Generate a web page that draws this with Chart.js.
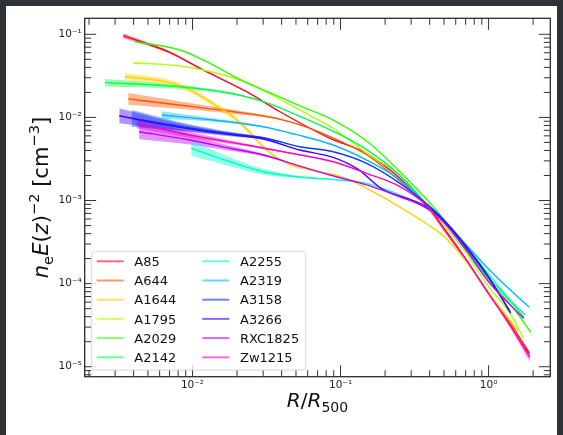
<!DOCTYPE html>
<html><head><meta charset="utf-8">
<script src="https://cdn.jsdelivr.net/npm/chart.js@4.4.0/dist/chart.umd.min.js"></script>
<style>
html,body{margin:0;padding:0;background:#2f3237;overflow:hidden;}
canvas{display:block;}
</style></head><body>
<canvas id="c" width="563" height="435"></canvas>
<script>
// ---------- data ----------
const names  = ['A85','A644','A1644','A1795','A2029','A2142','A2255','A2319','A3158','A3266','RXC1825','Zw1215'];
const colors = ['#ff0029','#ff5400','#ffd100','#afff00','#32ff00','#00ff4b','#00ffc7','#00b9ff','#003bff','#4300ff','#c100ff','#ff00bf'];
const xTicks = [0.01, 0.1, 1];
const yTicks = [1e-5, 1e-4, 1e-3, 1e-2, 1e-1];

const x_A85 = [0.0034, 0.00685, 0.0118, 0.0232, 0.039, 0.0848, 0.15, 0.252, 0.381, 0.501, 0.698, 1.0, 1.42, 1.88];
const y_A85 = [0.0962, 0.0618, 0.0372, 0.0204, 0.0117, 0.0056, 0.0037, 0.00185, 8.6e-4, 4.6e-4, 2.0e-4, 7.6e-5, 3.2e-5, 1.45e-5];
const e_A85 = [0.03, 0.015, 0.008, 0, 0, 0, 0, 0, 0, 0, 0, 0.005, 0.015, 0.03];

const x_A644 = [0.00368, 0.00808, 0.0188, 0.0368, 0.0577, 0.101, 0.151, 0.254, 0.39, 0.501, 0.698, 1.0, 1.42, 1.77];
const y_A644 = [0.0167, 0.0141, 0.0117, 0.00975, 0.00774, 0.0051, 0.00353, 0.00169, 8.2e-4, 4.4e-4, 1.95e-4, 7.6e-5, 3.2e-5, 1.66e-5];
const e_A644 = [0.07, 0.045, 0.025, 0.012, 0.005, 0, 0, 0, 0, 0, 0, 0, 0, 0];

const x_A1644 = [0.00349, 0.00705, 0.0101, 0.0142, 0.0188, 0.0248, 0.031, 0.0435, 0.065, 0.101, 0.15, 0.21, 0.392, 0.501, 0.698, 1.0, 1.585];
const y_A1644 = [0.0309, 0.0262, 0.0204, 0.0141, 0.0102, 0.0064, 0.0042, 0.0028, 0.0023, 0.00194, 0.0014, 0.00101, 5.07e-4, 3.7e-4, 1.9e-4, 7.8e-5, 2.7e-5];
const e_A1644 = [0.045, 0.035, 0.03, 0.03, 0.03, 0.025, 0.02, 0.012, 0.006, 0, 0, 0, 0, 0, 0, 0, 0];

const x_A1795 = [0.00397, 0.00822, 0.0118, 0.0199, 0.0294, 0.0532, 0.0892, 0.15, 0.252, 0.389, 0.501, 0.698, 1.0, 1.42, 1.72];
const y_A1795 = [0.0455, 0.0416, 0.0372, 0.029, 0.0215, 0.0122, 0.0074, 0.0037, 0.0020, 8.6e-4, 5.0e-4, 2.4e-4, 9.2e-5, 4.2e-5, 2.2e-5];
const e_A1795 = [0.012, 0.006, 0, 0, 0, 0, 0, 0, 0, 0, 0, 0, 0, 0, 0];

const x_A2029 = [0.00408, 0.00822, 0.01245, 0.0199, 0.039, 0.0532, 0.0892, 0.15, 0.252, 0.423, 0.501, 0.698, 1.0, 1.42, 1.93];
const y_A2029 = [0.0815, 0.0647, 0.0468, 0.030, 0.0175, 0.0138, 0.0093, 0.0052, 0.00222, 8.4e-4, 5.8e-4, 2.7e-4, 1.1e-4, 5.5e-5, 2.6e-5];
const e_A2029 = [0.008, 0.004, 0, 0, 0, 0, 0, 0, 0, 0, 0, 0, 0, 0, 0];

const x_A2142 = [0.00256, 0.00822, 0.0179, 0.0301, 0.0532, 0.0892, 0.15, 0.252, 0.4, 0.501, 0.698, 1.0, 1.42, 1.74];
const y_A2142 = [0.0262, 0.0234, 0.0195, 0.01546, 0.0103, 0.0068, 0.0041, 0.0020, 8.2e-4, 5.5e-4, 2.6e-4, 1.18e-4, 6.0e-5, 3.9e-5];
const e_A2142 = [0.045, 0.025, 0.012, 0.005, 0, 0, 0, 0, 0, 0, 0, 0, 0, 0];

const x_A2255 = [0.0098, 0.0179, 0.0301, 0.0505, 0.0848, 0.15, 0.252, 0.39, 0.501, 0.698, 1.0, 1.42, 1.77];
const y_A2255 = [0.00425, 0.00293, 0.00222, 0.00193, 0.0018, 0.00161, 0.00116, 7.8e-4, 5.5e-4, 2.85e-4, 1.3e-4, 6.2e-5, 4.2e-5];
const e_A2255 = [0.09, 0.055, 0.035, 0.015, 0.006, 0, 0, 0, 0, 0, 0, 0, 0];

const x_A2319 = [0.00618, 0.0138, 0.0301, 0.0505, 0.0892, 0.15, 0.252, 0.39, 0.501, 0.698, 1.0, 1.42, 1.88];
const y_A2319 = [0.0107, 0.0093, 0.00773, 0.0062, 0.00466, 0.00307, 0.00177, 8.8e-4, 5.8e-4, 3.0e-4, 1.5e-4, 8.2e-5, 5.2e-5];
const e_A2319 = [0.045, 0.02, 0.008, 0, 0, 0, 0, 0, 0, 0, 0, 0, 0];

const x_A3158 = [0.00388, 0.00822, 0.0179, 0.0301, 0.0532, 0.0892, 0.15, 0.252, 0.39, 0.501, 0.698, 1.0, 1.41];
const y_A3158 = [0.00975, 0.0078, 0.0064, 0.0057, 0.00444, 0.00386, 0.0028, 0.00161, 8.8e-4, 5.8e-4, 2.9e-4, 1.21e-4, 4.4e-5];
const e_A3158 = [0.1, 0.05, 0.02, 0.008, 0, 0, 0, 0, 0, 0, 0, 0, 0];

const x_A3266 = [0.0032, 0.00822, 0.0179, 0.0301, 0.0532, 0.0892, 0.13, 0.194, 0.3, 0.39, 0.501, 0.698, 1.0, 1.40];
const y_A3266 = [0.01047, 0.0076, 0.0062, 0.0055, 0.00405, 0.0033, 0.0024, 0.00135, 0.00102, 8.2e-4, 5.6e-4, 2.8e-4, 1.18e-4, 4.6e-5];
const e_A3266 = [0.09, 0.045, 0.02, 0.008, 0, 0, 0, 0, 0, 0, 0, 0, 0, 0];

const x_RXC1825 = [0.00436, 0.0096, 0.0179, 0.0301, 0.0505, 0.0848, 0.15, 0.252, 0.39, 0.501, 0.698, 1.0, 1.42, 1.73];
const y_RXC1825 = [0.00673, 0.00535, 0.00425, 0.00353, 0.00267, 0.00203, 0.00154, 0.00111, 7.9e-4, 5.4e-4, 2.6e-4, 1.05e-4, 5.4e-5, 3.8e-5];
const e_RXC1825 = [0.09, 0.055, 0.03, 0.015, 0.005, 0, 0, 0, 0, 0, 0, 0, 0, 0];

const x_Zw1215 = [0.00419, 0.0096, 0.0232, 0.0505, 0.0892, 0.15, 0.252, 0.39, 0.501, 0.698, 1.0, 1.42, 1.90];
const y_Zw1215 = [0.0085, 0.00614, 0.00466, 0.0036, 0.00293, 0.00212, 0.00147, 8.4e-4, 4.6e-4, 2.0e-4, 7.6e-5, 3.0e-5, 1.3e-5];
const e_Zw1215 = [0.06, 0.035, 0.015, 0.005, 0, 0, 0, 0, 0, 0, 0.01, 0.03, 0.06];

const seriesX = [x_A85, x_A644, x_A1644, x_A1795, x_A2029, x_A2142, x_A2255, x_A2319, x_A3158, x_A3266, x_RXC1825, x_Zw1215];
const seriesY = [y_A85, y_A644, y_A1644, y_A1795, y_A2029, y_A2142, y_A2255, y_A2319, y_A3158, y_A3266, y_RXC1825, y_Zw1215];
const seriesE = [e_A85, e_A644, e_A1644, e_A1795, e_A2029, e_A2142, e_A2255, e_A2319, e_A3158, e_A3266, e_RXC1825, e_Zw1215];

// ---------- helpers ----------
function rgba(hex, a){
  const n = parseInt(hex.slice(1),16);
  return `rgba(${(n>>16)&255},${(n>>8)&255},${n&255},${a})`;
}
const SUP = {'-':'\u207B','0':'\u2070','1':'\u00B9','2':'\u00B2','3':'\u00B3','4':'\u2074','5':'\u2075','6':'\u2076','7':'\u2077','8':'\u2078','9':'\u2079'};
function decadeLabel(v){
  const e = Math.round(Math.log10(v));
  return '10' + String(e).split('').map(c=>SUP[c]).join('');
}

// ---------- datasets ----------
const datasets = [];
names.forEach((nm,i)=>{
  const xs = seriesX[i], ys = seriesY[i], es = seriesE[i];
  const keep = xs.map((_,j)=> es[j]>0 || (j>0 && es[j-1]>0) || (j<xs.length-1 && es[j+1]>0));
  let seg = [];
  const flush = ()=>{
    if (seg.length>1){
      datasets.push({label:nm+'_lo', data: seg.map(j=>({x:xs[j], y:ys[j]/Math.pow(10,es[j])})),
        borderWidth:0, borderColor:'rgba(0,0,0,0)', pointRadius:0, fill:false, order:100+i});
      datasets.push({label:nm+'_hi', data: seg.map(j=>({x:xs[j], y:ys[j]*Math.pow(10,es[j])})),
        borderWidth:0, borderColor:'rgba(0,0,0,0)', pointRadius:0, fill:'-1',
        backgroundColor: rgba(colors[i],0.42), order:100+i});
    }
    seg = [];
  };
  xs.forEach((_,j)=>{ if (keep[j]) seg.push(j); else flush(); });
  flush();
});
names.forEach((nm,i)=>{
  datasets.push({label:nm, data: seriesX[i].map((x,j)=>({x, y:seriesY[i][j]})),
    borderColor: colors[i], borderWidth:1.4, pointRadius:0, fill:false, order: 11-i});
});

// ---------- plugins ----------
const bgPlugin = {
  id:'bg',
  beforeDraw(chart){
    const c = chart.ctx;
    c.save();
    c.fillStyle = '#2f3237'; c.fillRect(0,0,chart.width,chart.height);
    c.fillStyle = '#ffffff'; c.fillRect(6,6,551,429);
    c.restore();
  }
};

const framePlugin = {
  id:'frame',
  afterDatasetsDraw(chart){
    const c = chart.ctx, a = chart.chartArea, sx = chart.scales.x, sy = chart.scales.y;
    c.save();
    c.strokeStyle = '#333333'; c.lineWidth = 1;
    c.beginPath();
    for (let e=-4;e<=1;e++) for (let m=1;m<=9;m++){
      const v = m*Math.pow(10,e);
      if (v>=sx.min && v<=sx.max){
        const p = sx.getPixelForValue(v), L = m===1?11.5:6.5;
        c.moveTo(p,a.bottom); c.lineTo(p,a.bottom-L);
        c.moveTo(p,a.top); c.lineTo(p,a.top+L);
      }
    }
    for (let e=-6;e<=0;e++) for (let m=1;m<=9;m++){
      const v = m*Math.pow(10,e);
      if (v>=sy.min && v<=sy.max){
        const p = sy.getPixelForValue(v), L = m===1?11.5:6.5;
        c.moveTo(a.left,p); c.lineTo(a.left+L,p);
        c.moveTo(a.right,p); c.lineTo(a.right-L,p);
      }
    }
    c.stroke();
    c.lineWidth = 1.3; c.strokeStyle = '#2a2a2a';
    c.strokeRect(a.left, a.top, a.right-a.left, a.bottom-a.top);
    c.restore();
  }
};

const legendPlugin = {
  id:'legendBox',
  afterDraw(chart){
    const c = chart.ctx;
    c.save();
    const bx=91.7, by=251.3, bw=214, bh=118.7, r=3;
    c.beginPath();
    c.moveTo(bx+r,by); c.lineTo(bx+bw-r,by); c.quadraticCurveTo(bx+bw,by,bx+bw,by+r);
    c.lineTo(bx+bw,by+bh-r); c.quadraticCurveTo(bx+bw,by+bh,bx+bw-r,by+bh);
    c.lineTo(bx+r,by+bh); c.quadraticCurveTo(bx,by+bh,bx,by+bh-r);
    c.lineTo(bx,by+r); c.quadraticCurveTo(bx,by,bx+r,by);
    c.closePath();
    c.fillStyle = 'rgba(255,255,255,0.8)'; c.fill();
    c.strokeStyle = 'rgba(204,204,204,0.8)'; c.lineWidth = 1; c.stroke();
    c.font = '13px "DejaVu Sans"'; c.textBaseline = 'alphabetic';
    names.forEach((nm,i)=>{
      const col = Math.floor(i/6), row = i%6;
      const yy = 261.3 + row*19.2;
      const x0 = col ? 202.3 : 96.7;
      c.strokeStyle = rgba(colors[i],0.6); c.lineWidth = 2;
      c.beginPath(); c.moveTo(x0,yy); c.lineTo(x0+27,yy); c.stroke();
      c.fillStyle = '#111111';
      c.fillText(nm, col ? 240 : 134.3, yy+4.7);
    });
    c.restore();
  }
};

function drawRuns(c, runs, size){
  const fontOf = r => `${r.it?'italic ':''}${(r.s? size*0.7 : size).toFixed(2)}px "DejaVu Sans"`;
  let w = 0;
  runs.forEach(r=>{ c.font = fontOf(r); r.w = c.measureText(r.t).width; w += r.w; });
  let x = -w/2;
  runs.forEach(r=>{
    c.font = fontOf(r);
    const dy = r.s===1 ? size*0.22 : (r.s===-1 ? -size*0.42 : 0);
    c.fillText(r.t, x, dy);
    x += r.w;
  });
}

const titlePlugin = {
  id:'titles',
  afterDraw(chart){
    const c = chart.ctx, a = chart.chartArea;
    c.save();
    c.fillStyle = '#111111'; c.textBaseline = 'alphabetic'; c.textAlign = 'left';
    c.save();
    c.translate((a.left+a.right)/2, 407.3);
    drawRuns(c, [{t:'R',it:1},{t:'/'},{t:'R',it:1},{t:'500',s:1}], 20);
    c.restore();
    c.save();
    c.translate(48, (a.top+a.bottom)/2);
    c.rotate(-Math.PI/2);
    drawRuns(c, [{t:'n',it:1},{t:'e',s:1},{t:'E',it:1},{t:'('},{t:'z',it:1},{t:')'},{t:'\u22122',s:-1},
                 {t:' [cm'},{t:'\u22123',s:-1},{t:']'}], 21);
    c.restore();
    c.restore();
  }
};

// ---------- chart ----------
new Chart(document.getElementById('c').getContext('2d'), {
  type:'line',
  data:{datasets},
  options:{
    responsive:false, animation:false, devicePixelRatio:1,
    layout:{padding:{left:0, top:18.3, right:12.7, bottom:0}},
    plugins:{legend:{display:false}, tooltip:{enabled:false}},
    elements:{point:{radius:0}, line:{cubicInterpolationMode:'monotone'}},
    scales:{
      x:{type:'logarithmic', min:0.00187, max:2.612,
        afterBuildTicks: s => { s.ticks = xTicks.map(v=>({value:v})); },
        afterFit: s => { s.height = 58.3; },
        grid:{display:false, drawTicks:false}, border:{display:false},
        ticks:{callback: v => decadeLabel(v), font:{family:'DejaVu Sans', size:10.5}, color:'#222222',
               padding:2, maxRotation:0, autoSkip:false}},
      y:{type:'logarithmic', min:7.59e-6, max:0.1558,
        afterBuildTicks: s => { s.ticks = yTicks.map(v=>({value:v})); },
        afterFit: s => { s.width = 84.7; },
        grid:{display:false, drawTicks:false}, border:{display:false},
        ticks:{callback: v => decadeLabel(v), font:{family:'DejaVu Sans', size:10.5}, color:'#222222',
               padding:3, autoSkip:false}}
    }
  },
  plugins:[bgPlugin, framePlugin, legendPlugin, titlePlugin]
});
</script>
</body></html>
